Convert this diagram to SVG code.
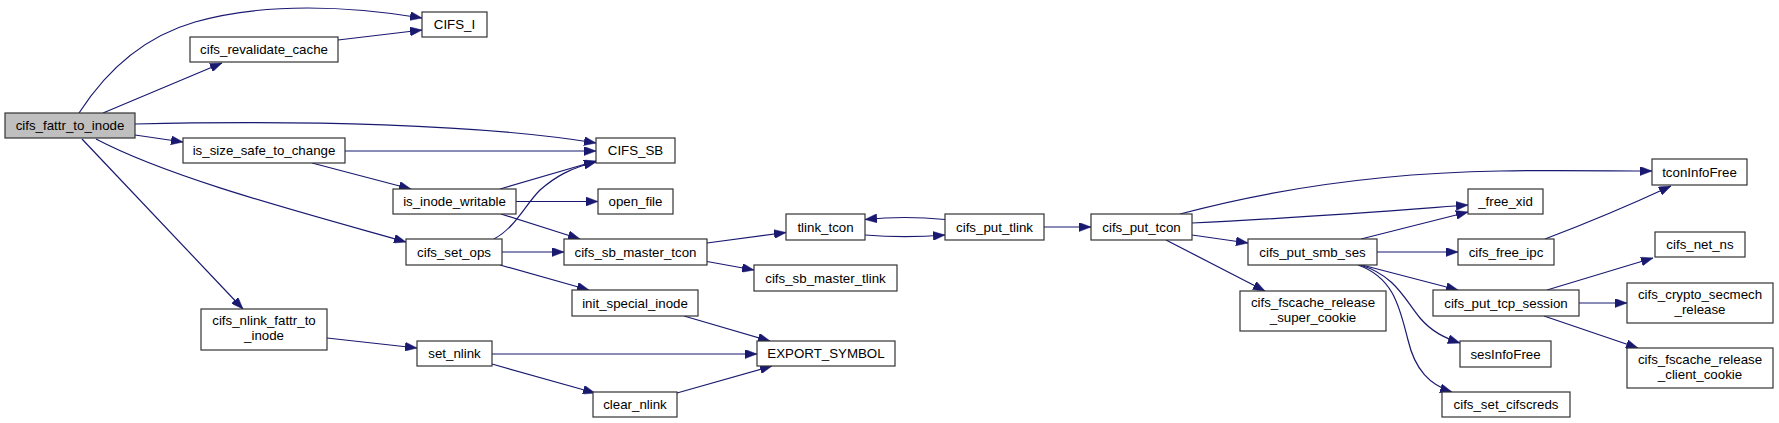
<svg xmlns="http://www.w3.org/2000/svg" width="1779" height="423" viewBox="0 0 1779 423">
<style>
.n rect{fill:#fff;stroke:#333;stroke-width:1.2}
.n.root rect{fill:#bfbfbf}
.n text{font-family:"Liberation Sans",Arial,Helvetica,sans-serif;font-size:13.3px;fill:#000;text-anchor:middle}
.e path{fill:none;stroke:#191970;stroke-width:1.2;marker-end:url(#ah)}
</style>
<defs>
<marker id="ah" viewBox="0 0 12 9" refX="12" refY="4.5" markerWidth="12" markerHeight="9" markerUnits="userSpaceOnUse" orient="auto">
<path d="M0,0 L12,4.5 L0,9 Z" fill="#191970" stroke="#191970" stroke-width="0.5"/>
</marker>
</defs>
<rect width="1779" height="423" fill="#fff"/>
<g id="edges" class="e">
<path d="M79,113 C110,65 150,35 195,22 C265,2 350,6 422,18"/>
<path d="M103,113 L222,63"/>
<path d="M135,124 C300,120 480,124 596,143"/>
<path d="M135,135 L183,142"/>
<path d="M96,139 C170,178 300,212 406,242"/>
<path d="M82,139 L243,309"/>
<path d="M338,40 L422,30"/>
<path d="M345,151 L596,151"/>
<path d="M312,163 L411,189"/>
<path d="M500,189 L596,161"/>
<path d="M516,201.5 L598,201.5"/>
<path d="M501,214 L580,239"/>
<path d="M494,239 C515,228 525,205 540,190 C555,177 570,168 596,162"/>
<path d="M502,252 L564,252"/>
<path d="M500,265 L589,290"/>
<path d="M327,338 L417,348"/>
<path d="M492,354 L757,354"/>
<path d="M492,364 L595,393"/>
<path d="M684,316 L770,341"/>
<path d="M677,393 L772,366"/>
<path d="M707,243 L786,232.5"/>
<path d="M707,261.5 L754,270"/>
<path d="M945,219.5 C920,217 890,217 865,219.5"/>
<path d="M865,235 C890,237 920,237 945,235"/>
<path d="M1044,227 L1091,227"/>
<path d="M1180,214 C1270,190 1380,173 1500,171 C1560,170 1610,171 1652,171"/>
<path d="M1192,223 C1300,218 1400,210 1468,205"/>
<path d="M1192,235 L1248,243"/>
<path d="M1166,240 L1265,291"/>
<path d="M1361,239 L1468,212"/>
<path d="M1377,252 L1458,252"/>
<path d="M1362,265 L1458,290"/>
<path d="M1360,265 C1395,275 1405,300 1420,318 C1432,332 1445,338 1460,343"/>
<path d="M1358,265 C1395,278 1400,310 1408,340 C1415,370 1430,385 1452,392"/>
<path d="M1545,239 C1590,222 1630,205 1671,186"/>
<path d="M1547,290 L1653,258"/>
<path d="M1579,303 L1627,303"/>
<path d="M1544,316 L1638,348"/>
</g>
<g id="cifs_fattr_to_inode" class="n root"><rect x="5" y="113" width="130" height="25"/><text x="70" y="130">cifs_fattr_to_inode</text></g>
<g id="CIFS_I" class="n"><rect x="422" y="12" width="65" height="25"/><text x="454.5" y="29">CIFS_I</text></g>
<g id="cifs_revalidate_cache" class="n"><rect x="190" y="37" width="148" height="25"/><text x="264" y="54">cifs_revalidate_cache</text></g>
<g id="is_size_safe_to_change" class="n"><rect x="183" y="138" width="162" height="25"/><text x="264" y="155">is_size_safe_to_change</text></g>
<g id="CIFS_SB" class="n"><rect x="596" y="138" width="79" height="25"/><text x="635.5" y="155">CIFS_SB</text></g>
<g id="is_inode_writable" class="n"><rect x="393" y="189" width="123" height="25"/><text x="454.5" y="206">is_inode_writable</text></g>
<g id="open_file" class="n"><rect x="598" y="189" width="75" height="25"/><text x="635.5" y="206">open_file</text></g>
<g id="cifs_set_ops" class="n"><rect x="406" y="239" width="96" height="26"/><text x="454" y="256.5">cifs_set_ops</text></g>
<g id="cifs_sb_master_tcon" class="n"><rect x="564" y="239" width="143" height="26"/><text x="635.5" y="256.5">cifs_sb_master_tcon</text></g>
<g id="init_special_inode" class="n"><rect x="572" y="290" width="126" height="26"/><text x="635" y="307.5">init_special_inode</text></g>
<g id="cifs_nlink_fattr_to_inode" class="n"><rect x="201" y="309" width="126" height="41"/><text x="264" y="325">cifs_nlink_fattr_to</text><text x="264" y="340">_inode</text></g>
<g id="set_nlink" class="n"><rect x="417" y="341" width="75" height="25"/><text x="454.5" y="358">set_nlink</text></g>
<g id="EXPORT_SYMBOL" class="n"><rect x="757" y="341" width="138" height="25"/><text x="826" y="358">EXPORT_SYMBOL</text></g>
<g id="clear_nlink" class="n"><rect x="593" y="392" width="84" height="25"/><text x="635" y="409">clear_nlink</text></g>
<g id="tlink_tcon" class="n"><rect x="786" y="214" width="79" height="26"/><text x="825.5" y="231.5">tlink_tcon</text></g>
<g id="cifs_sb_master_tlink" class="n"><rect x="754" y="265" width="143" height="26"/><text x="825.5" y="282.5">cifs_sb_master_tlink</text></g>
<g id="cifs_put_tlink" class="n"><rect x="945" y="214" width="99" height="26"/><text x="994.5" y="231.5">cifs_put_tlink</text></g>
<g id="cifs_put_tcon" class="n"><rect x="1091" y="214" width="101" height="26"/><text x="1141.5" y="231.5">cifs_put_tcon</text></g>
<g id="cifs_put_smb_ses" class="n"><rect x="1248" y="239" width="129" height="26"/><text x="1312.5" y="256.5">cifs_put_smb_ses</text></g>
<g id="cifs_fscache_release_super_cookie" class="n"><rect x="1240" y="291" width="146" height="40"/><text x="1313" y="306.5">cifs_fscache_release</text><text x="1313" y="321.5">_super_cookie</text></g>
<g id="tconInfoFree" class="n"><rect x="1652" y="159" width="95" height="26"/><text x="1699.5" y="176.5">tconInfoFree</text></g>
<g id="_free_xid" class="n"><rect x="1468" y="189" width="75" height="25"/><text x="1505.5" y="206">_free_xid</text></g>
<g id="cifs_free_ipc" class="n"><rect x="1458" y="239" width="96" height="26"/><text x="1506" y="256.5">cifs_free_ipc</text></g>
<g id="cifs_put_tcp_session" class="n"><rect x="1433" y="290" width="146" height="26"/><text x="1506" y="307.5">cifs_put_tcp_session</text></g>
<g id="sesInfoFree" class="n"><rect x="1460" y="341" width="91" height="26"/><text x="1505.5" y="358.5">sesInfoFree</text></g>
<g id="cifs_set_cifscreds" class="n"><rect x="1442" y="392" width="128" height="25"/><text x="1506" y="409">cifs_set_cifscreds</text></g>
<g id="cifs_net_ns" class="n"><rect x="1655" y="232" width="90" height="25"/><text x="1700" y="249">cifs_net_ns</text></g>
<g id="cifs_crypto_secmech_release" class="n"><rect x="1627" y="283" width="146" height="40"/><text x="1700" y="298.5">cifs_crypto_secmech</text><text x="1700" y="313.5">_release</text></g>
<g id="cifs_fscache_release_client_cookie" class="n"><rect x="1627" y="348" width="146" height="40"/><text x="1700" y="363.5">cifs_fscache_release</text><text x="1700" y="378.5">_client_cookie</text></g>
</svg>
